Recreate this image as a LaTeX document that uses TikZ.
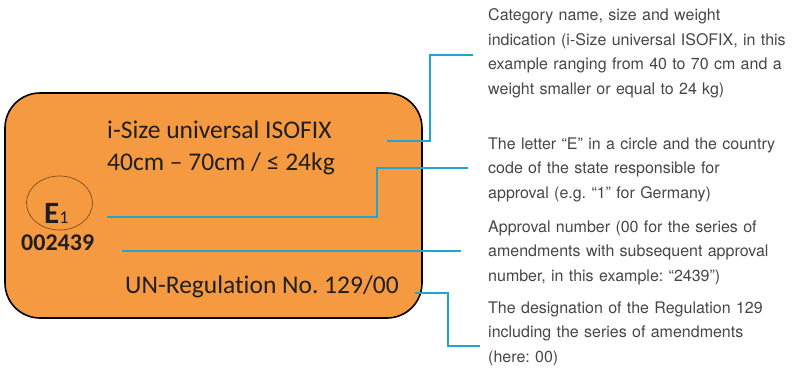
\documentclass[tikz,border=0pt]{standalone}
\usepackage{fontspec}
\setmainfont{Carlito}[Ligatures={NoCommon}]
\newfontfamily\heros{TeX Gyre Heros}
\usetikzlibrary{shapes.geometric}
\definecolor{plateorange}{RGB}{246,154,66}
\definecolor{leadblue}{RGB}{32,166,206}
\definecolor{notegray}{RGB}{70,70,70}
\definecolor{ringbrown}{RGB}{125,78,30}
\frenchspacing
\begin{document}
\begin{tikzpicture}[x=1pt,y=-1pt,
    plate/.style={draw=black,line width=1.6pt,fill=plateorange,rounded corners=35pt},
    marking/.style={anchor=base west,inner sep=0pt,text=black!88,font=\fontsize{25.5}{30}\selectfont},
    note/.style={anchor=base west,inner sep=0pt,text width=305pt,align=left,text=notegray,font=\heros\fontsize{16}{24.5}\selectfont},
    leader/.style={draw=leadblue,line width=2pt}]
  \useasboundingbox (0,0) rectangle (794,369);
  \node[plate,minimum width=417pt,minimum height=225pt] (plate) at (213.5,205.5) {};
  \node[marking] (cat) at (107,138) {i-Size universal ISOFIX};
  \node[marking] (size) at (107,170) {40cm – 70cm / ≤ 24kg};
  \node[draw=ringbrown,line width=0.7pt,ellipse,minimum width=66pt,minimum height=54pt] (ring) at (59.5,203) {};
  \node[marking] (sign) at (44,223) {{\fontsize{31}{30}\selectfont\bfseries E}{\fontsize{18}{20}\selectfont 1}};
  \node[marking,font=\fontsize{24}{30}\selectfont\bfseries] (number) at (21,250) {002439};
  \node[marking] (reg) at (125,293) {UN-Regulation No. 129/00};
  \node[note] (catnote) at (488,21) {Category name, size and weight\\
    indication (i-Size universal ISOFIX, in this\\
    example ranging from 40 to 70 cm and a\\
    weight smaller or equal to 24 kg)};
  \node[note] (signnote) at (488,149) {The letter “E” in a circle and the country\\
    code of the state responsible for\\
    approval (e.g. “1” for Germany)};
  \node[note] (numnote) at (488,232) {Approval number (00 for the series of\\
    amendments with subsequent approval\\
    number, in this example: “2439”)};
  \node[note] (regnote) at (488,313) {The designation of the Regulation 129\\
    including the series of amendments\\
    (here: 00)};
  \coordinate (catfrom) at (387,141);
  \coordinate (catto) at (473,55);
  \coordinate (signfrom) at (107,217);
  \coordinate (signto) at (468,168);
  \coordinate (numfrom) at (122,251);
  \coordinate (numto) at (461,251);
  \coordinate (regfrom) at (415,293);
  \coordinate (regto) at (480,346);
  \begin{scope}[leader]
    \draw (catfrom) -- ++(43,0) |- (catto);
    \draw (signfrom) -- ++(270,0) |- (signto);
    \draw (numfrom) -- (numto);
    \draw (regfrom) -- ++(33,0) |- (regto);
  \end{scope}
\end{tikzpicture}
\end{document}
